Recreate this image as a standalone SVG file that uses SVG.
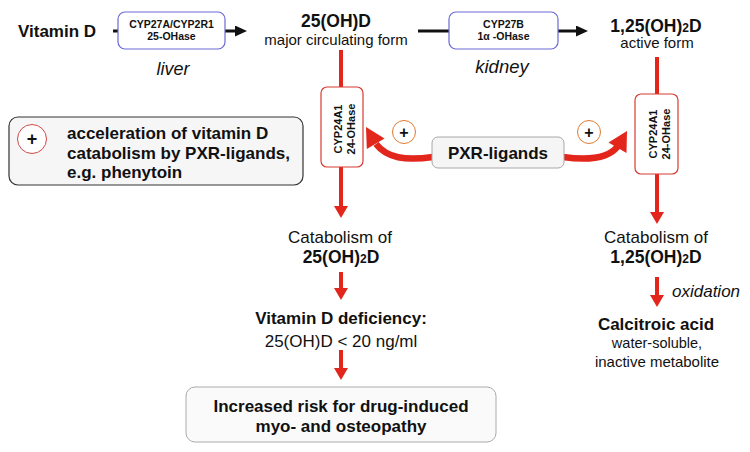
<svg xmlns="http://www.w3.org/2000/svg" width="750" height="452" viewBox="0 0 750 452">
<style>
text{font-family:"Liberation Sans",Arial,sans-serif;fill:#111}
.b{font-weight:bold}
.it{font-style:italic}
.enz{fill:#fff;stroke:#6a6ad6;stroke-width:1.2}
.cyp{fill:#fff;stroke:#d83a32;stroke-width:1.2}
.rl{stroke:#e3261c;stroke-width:4;fill:none}
.rc{stroke:#e3261c;stroke-width:6.5;fill:none}
.rh{fill:#e3261c}
.bl{stroke:#111;stroke-width:3;fill:none}
.pc{fill:#fff;stroke:#e07a30;stroke-width:1}
</style>
<defs>
<marker id="ra" markerUnits="userSpaceOnUse" markerWidth="12" markerHeight="14" viewBox="0 0 12 14" refX="1" refY="7" orient="auto"><path d="M0,0L12,7L0,14z" fill="#e3261c"/></marker>
<marker id="ba" markerUnits="userSpaceOnUse" markerWidth="12" markerHeight="11" viewBox="0 0 12 11" refX="1" refY="5.5" orient="auto"><path d="M0,0L12,5.5L0,11z" fill="#111"/></marker>
</defs>

<g id="connectors">
<line class="bl" x1="113" y1="31" x2="118" y2="31"/>
<line class="bl" x1="225" y1="31" x2="236" y2="31" marker-end="url(#ba)"/>
<line class="bl" x1="418" y1="31" x2="449" y2="31"/>
<line class="bl" x1="558" y1="31" x2="577" y2="31" marker-end="url(#ba)"/>
<line class="rl" x1="341" y1="50" x2="341" y2="87"/>
<line class="rl" x1="341" y1="167" x2="341" y2="207" marker-end="url(#ra)"/>
<line class="rl" x1="341" y1="272" x2="341" y2="289" marker-end="url(#ra)"/>
<line class="rl" x1="341" y1="350" x2="341" y2="369" marker-end="url(#ra)"/>
<line class="rl" x1="657" y1="57" x2="657" y2="94"/>
<line class="rl" x1="657" y1="174" x2="657" y2="213" marker-end="url(#ra)"/>
<line class="rl" x1="657" y1="277" x2="657" y2="296" marker-end="url(#ra)"/>
<path class="rc" d="M433,157 C405,161 387,158 376,144"/>
<polygon class="rh" points="366,127 384.5,138.5 366.8,149"/>
<path class="rc" d="M563,157 C591,161 609,158 618,146"/>
<polygon class="rh" points="627,131 626.5,153 608.5,142.5"/>
</g>

<g id="vitd"><text class="b" x="18" y="37" font-size="17">Vitamin D</text></g>

<g id="cyp27a">
<rect class="enz" x="118" y="12" width="107" height="37" rx="7"/>
<text class="b" x="171.5" y="28" font-size="10.5" text-anchor="middle">CYP27A/CYP2R1</text>
<text class="b" x="171.5" y="40" font-size="10.5" text-anchor="middle">25-OHase</text>
</g>
<g id="liver"><text class="it" x="173" y="75" font-size="18" text-anchor="middle">liver</text></g>

<g id="ohd">
<text class="b" x="336" y="27" font-size="17.5" text-anchor="middle">25(OH)D</text>
<text x="336" y="45" font-size="15" text-anchor="middle">major circulating form</text>
</g>

<g id="cyp27b">
<rect class="enz" x="449" y="12" width="109" height="37" rx="7"/>
<text class="b" x="503.5" y="28" font-size="10.5" text-anchor="middle">CYP27B</text>
<text class="b" x="503.5" y="40" font-size="10.5" text-anchor="middle">1α -OHase</text>
</g>
<g id="kidney"><text class="it" x="502" y="73" font-size="18.5" text-anchor="middle">kidney</text></g>

<g id="dihyd">
<text class="b" x="656" y="32" font-size="17.5" text-anchor="middle">1,25(OH)<tspan font-size="12">2</tspan>D</text>
<text x="657" y="48" font-size="15" text-anchor="middle">active form</text>
</g>

<g id="cyp24left">
<rect class="cyp" x="321" y="87" width="42" height="80" rx="6"/>
<text class="b" transform="translate(330,129) rotate(-90)" font-size="11" text-anchor="middle"><tspan x="0" y="12">CYP24A1</tspan><tspan x="0" y="25">24-OHase</tspan></text>
</g>

<g id="cyp24right">
<rect class="cyp" x="635" y="94" width="43" height="80" rx="6"/>
<text class="b" transform="translate(645,134) rotate(-90)" font-size="11" text-anchor="middle"><tspan x="0" y="12">CYP24A1</tspan><tspan x="0" y="25">24-OHase</tspan></text>
</g>

<g id="pxr">
<rect x="432" y="137" width="132" height="31" rx="6" fill="#f5f5f5" stroke="#a8a8a8" stroke-width="1"/>
<text class="b" x="498" y="159" font-size="17" text-anchor="middle">PXR-ligands</text>
</g>

<g id="plusleft">
<circle class="pc" cx="404" cy="132" r="11.5"/>
<text class="b" x="404" y="137.5" font-size="16" text-anchor="middle">+</text>
</g>
<g id="plusright">
<circle class="pc" cx="589" cy="132" r="11.5"/>
<text class="b" x="589" y="137.5" font-size="16" text-anchor="middle">+</text>
</g>

<g id="legend">
<rect x="9" y="117" width="294" height="68" rx="9" fill="#f6f6f6" stroke="#333" stroke-width="1.2"/>
<circle cx="32" cy="139" r="14.5" fill="#fff" stroke="#d04848" stroke-width="1"/>
<text class="b" x="32" y="145" font-size="18" text-anchor="middle">+</text>
<text class="b" x="67" y="139" font-size="17">acceleration of vitamin D</text>
<text class="b" x="67" y="159" font-size="17">catabolism by PXR-ligands,</text>
<text class="b" x="67" y="178" font-size="17">e.g. phenytoin</text>
</g>

<g id="catab25">
<text x="340" y="243" font-size="17" text-anchor="middle">Catabolism of</text>
<text class="b" x="341" y="263" font-size="17.5" text-anchor="middle">25(OH)<tspan font-size="12">2</tspan>D</text>
</g>

<g id="deficiency">
<text class="b" x="341" y="324" font-size="17" text-anchor="middle">Vitamin D deficiency:</text>
<text x="341" y="347" font-size="17" text-anchor="middle">25(OH)D &lt; 20 ng/ml</text>
</g>

<g id="risk">
<rect x="186" y="387" width="310" height="55" rx="9" fill="#fafafa" stroke="#aaa" stroke-width="1"/>
<text class="b" x="341" y="412" font-size="17" text-anchor="middle">Increased risk for drug-induced</text>
<text class="b" x="341" y="432" font-size="17" text-anchor="middle">myo- and osteopathy</text>
</g>

<g id="catab125">
<text x="656" y="243" font-size="17" text-anchor="middle">Catabolism of</text>
<text class="b" x="656" y="263" font-size="17.5" text-anchor="middle">1,25(OH)<tspan font-size="12">2</tspan>D</text>
</g>

<g id="oxidation"><text class="it" x="672" y="297" font-size="17">oxidation</text></g>

<g id="calcitroic">
<text class="b" x="656" y="330" font-size="17" text-anchor="middle">Calcitroic acid</text>
<text x="657" y="348" font-size="14.5" text-anchor="middle">water-soluble,</text>
<text x="657" y="367" font-size="15" text-anchor="middle">inactive metabolite</text>
</g>
</svg>
